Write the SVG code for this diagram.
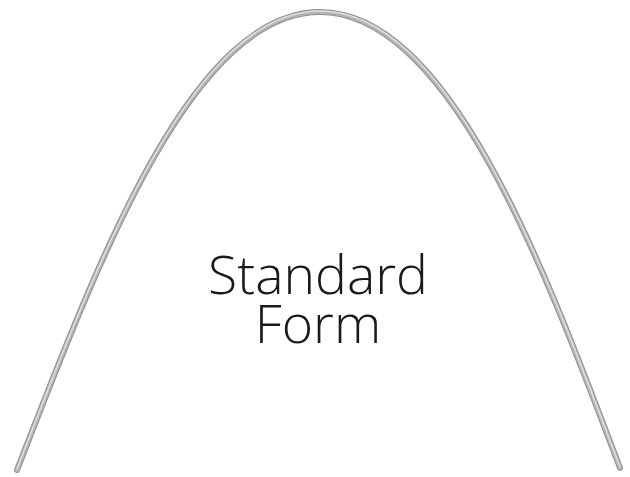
<svg xmlns="http://www.w3.org/2000/svg" width="630" height="477" viewBox="0 0 630 477">
<style>
.wire-o{fill:none;stroke:#8f8f8f;stroke-width:6;stroke-linecap:round}
.wire-m{fill:none;stroke:#b4b4b4;stroke-width:4;stroke-linecap:round}
.wire-h{fill:none;stroke:#dedede;stroke-width:1.5;stroke-linecap:round}
.lbl{font-family:"Open Sans",sans-serif;font-weight:300;font-size:53.5px;fill:#1a1a1a;text-anchor:middle}
</style>
<rect width="630" height="477" fill="#fff"/>
<g id="arch">
<path class="wire-o" d="M17,470 C95,270 190,12 320,12 C450,12 545,270 620,468"/>
<path class="wire-m" d="M17,470 C95,270 190,12 320,12 C450,12 545,270 620,468"/>
<path class="wire-h" d="M17,469 C95,269 190,11 320,11 C450,11 545,269 620,467"/>
</g>
<g id="label">
<text class="lbl" x="318" y="294">Standard</text>
<text class="lbl" x="318" y="343">Form</text>
</g>
</svg>
